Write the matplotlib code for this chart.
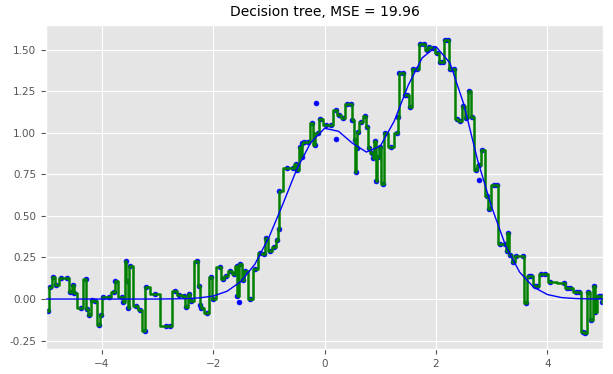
import matplotlib
matplotlib.use("Agg")
import matplotlib.pyplot as plt
import numpy as np

# ── Data ──────────────────────────────────────────────────────────────────────
# training samples (x, y) and the tree's prediction at each sample
x_pts = [
    -4.97, -4.93, -4.87, -4.82, -4.73, -4.63, -4.56, -4.52, -4.49, -4.38,
    -4.29, -4.27, -4.22, -4.18, -4.12, -4.05, -4.01, -3.98, -3.87, -3.78,
    -3.76, -3.64, -3.61, -3.56, -3.55, -3.52, -3.49, -3.39, -3.32, -3.22,
    -3.21, -3.04, -2.85, -2.78, -2.68, -2.61, -2.52, -2.49, -2.43, -2.39,
    -2.29, -2.25, -2.23, -2.21, -2.11, -2.04, -2.00, -1.88, -1.83, -1.77,
    -1.70, -1.62, -1.58, -1.57, -1.54, -1.52, -1.46, -1.42, -1.34, -1.24,
    -1.16, -1.09, -1.06, -0.98, -0.90, -0.85, -0.82, -0.81, -0.68, -0.56,
    -0.52, -0.49, -0.44, -0.41, -0.40, -0.37, -0.30, -0.22, -0.18, -0.16,
    -0.12, -0.08, 0.02, 0.12, 0.20, 0.21, 0.25, 0.33, 0.41, 0.48,
    0.50, 0.54, 0.56, 0.58, 0.60, 0.65, 0.72, 0.76, 0.79, 0.85,
    0.87, 0.91, 0.92, 0.96, 1.00, 1.04, 1.09, 1.20, 1.30, 1.32,
    1.34, 1.40, 1.44, 1.48, 1.54, 1.58, 1.66, 1.72, 1.78, 1.83,
    1.87, 1.95, 2.02, 2.08, 2.13, 2.16, 2.21, 2.25, 2.32, 2.37,
    2.43, 2.49, 2.54, 2.60, 2.65, 2.71, 2.77, 2.78, 2.83, 2.91,
    2.95, 3.04, 3.09, 3.15, 3.24, 3.27, 3.29, 3.33, 3.38, 3.44,
    3.56, 3.61, 3.66, 3.71, 3.78, 3.81, 3.89, 3.96, 4.05, 4.29,
    4.35, 4.41, 4.52, 4.57, 4.63, 4.68, 4.73, 4.79, 4.83, 4.86,
    4.92, 4.96, 4.98,
]
y_pts = [
    -0.074, 0.072, 0.132, 0.086, 0.124, 0.124, 0.040, 0.086, 0.036, -0.055,
    0.120, -0.060, -0.094, -0.008, -0.010, -0.154, -0.094, 0.012, 0.012, 0.040,
    0.110, 0.012, -0.020, 0.226, 0.110, -0.054, 0.196, -0.044, -0.064, -0.194,
    0.072, 0.030, -0.160, -0.160, 0.046, 0.026, 0.020, -0.048, 0.030, -0.014,
    0.226, 0.080, -0.034, -0.054, -0.084, 0.132, 0.002, 0.192, 0.120, 0.140,
    0.166, 0.152, 0.200, 0.016, -0.018, 0.210, 0.112, 0.166, 0.000, 0.180,
    0.276, 0.272, 0.366, 0.286, 0.312, 0.356, 0.420, 0.652, 0.786, 0.786,
    0.812, 0.776, 0.916, 0.852, 0.936, 0.946, 0.946, 1.056, 0.926, 1.180,
    0.996, 1.080, 1.046, 1.046, 0.960, 1.136, 1.106, 1.086, 1.176, 1.176,
    1.076, 0.956, 0.766, 0.906, 1.005, 1.066, 1.100, 1.035, 0.906, 0.880,
    0.846, 0.952, 0.710, 0.856, 0.916, 0.690, 1.000, 0.916, 0.996, 1.092,
    1.360, 1.360, 1.226, 1.226, 1.152, 1.386, 1.386, 1.536, 1.536, 1.496,
    1.516, 1.512, 1.480, 1.426, 1.426, 1.560, 1.560, 1.386, 1.386, 1.080,
    1.072, 1.160, 1.086, 1.252, 1.092, 0.776, 0.806, 0.716, 0.896, 0.620,
    0.540, 0.686, 0.686, 0.332, 0.332, 0.286, 0.400, 0.266, 0.220, 0.256,
    0.256, -0.024, 0.140, 0.140, 0.080, 0.080, 0.152, 0.152, 0.100, 0.096,
    0.066, 0.066, 0.040, 0.040, -0.200, -0.204, 0.040, -0.124, 0.076, -0.080,
    0.020, 0.020, -0.020,
]
# tree prediction equals the sample value except at a few outliers
y_tree = list(y_pts)
y_tree[x_pts.index(-1.54)] = 0.016
y_tree[x_pts.index(-0.16)] = 0.996
y_tree[x_pts.index(0.20)] = 1.136
y_tree[x_pts.index(2.78)] = 0.806

# true function, sampled off the blue curve
x_true = [
    -5.0, -4.5, -4.0, -3.5, -3.0, -2.75, -2.5, -2.25, -2.0, -1.75,
    -1.5, -1.25, -1.0, -0.75, -0.5, -0.25, 0.0, 0.25, 0.5, 0.75,
    1.0, 1.25, 1.5, 1.75, 2.0, 2.25, 2.5, 2.75, 3.0, 3.25,
    3.5, 3.75, 4.0, 4.25, 4.5, 4.75, 5.0,
]
y_true = [
    0.000, 0.000, 0.000, 0.000, 0.000, 0.001, 0.002, 0.007, 0.018, 0.047,
    0.106, 0.210, 0.370, 0.570, 0.780, 0.940, 1.027, 1.009, 0.937, 0.884,
    0.920, 1.070, 1.285, 1.450, 1.518, 1.420, 1.170, 0.830, 0.552, 0.320,
    0.162, 0.072, 0.027, 0.009, 0.003, 0.001, 0.000,
]

TITLE = "Decision tree, MSE = 19.96"

# ── Plot ──────────────────────────────────────────────────────────────────────
plt.style.use("ggplot")
fig = plt.figure(figsize=(6.13, 3.74), dpi=100)
ax = fig.add_axes([0.075, 0.067, 0.909, 0.867])

ax.plot(x_true, y_true, color="b", lw=1.0, zorder=3)
ax.scatter(x_pts, y_pts, c="b", s=12, zorder=2)
ax.plot(x_pts, y_tree, color="g", lw=1.8, drawstyle="steps-mid", zorder=2.5)

ax.set_xlim(-5, 5)
ax.set_ylim(-0.3, 1.65)
ax.set_xticks([-4, -2, 0, 2, 4])
ax.set_yticks(np.arange(-0.25, 1.51, 0.25))
ax.yaxis.set_major_formatter(matplotlib.ticker.FormatStrFormatter("%.2f"))
ax.tick_params(labelsize=7.5, colors="#555555")
ax.set_title(TITLE, fontsize=10, color="black")

fig.savefig("out.png", dpi=100)
